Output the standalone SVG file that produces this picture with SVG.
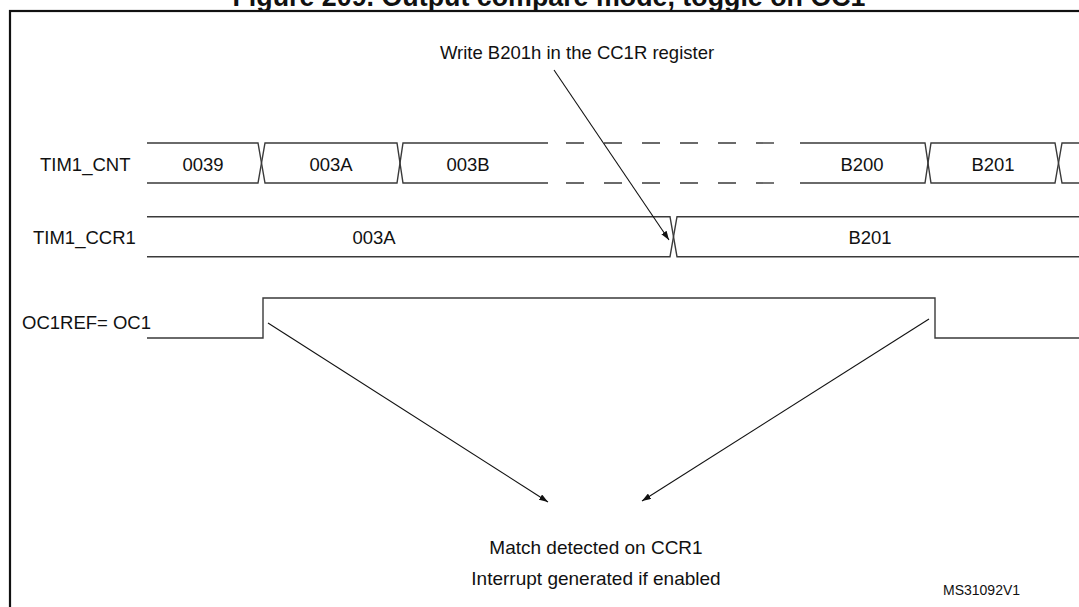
<svg xmlns="http://www.w3.org/2000/svg" width="1079" height="607" viewBox="0 0 1079 607">
<style>
.t{font-family:"Liberation Sans",Arial,sans-serif;font-size:18.5px;fill:#111}
.m{text-anchor:middle}
.bus{fill:none;stroke:#3a3a3a;stroke-width:1.4}
.arr{fill:none;stroke:#111;stroke-width:1.1}
</style>
<defs>
<marker id="ah" viewBox="0 0 10 7" refX="10" refY="3.5" markerWidth="9" markerHeight="6.3" markerUnits="userSpaceOnUse" orient="auto">
<path d="M0,0 L10,3.5 L0,7 z" fill="#111"/>
</marker>
</defs>
<rect width="1079" height="607" fill="#fff"/>
<text x="549" y="5.5" class="t m" style="font-weight:bold;font-size:26.8px" textLength="633">Figure 209. Output compare mode, toggle on OC1</text>
<rect id="frame" x="10" y="11" width="1100" height="650" fill="none" stroke="#111" stroke-width="2.2"/>

<g id="tim1_cnt">
<text x="40" y="170.5" class="t">TIM1_CNT</text>
<polyline class="bus" points="147,143 258,143 265,183 397,183 403,143 548,143"/>
<polyline class="bus" points="147,183 258,183 265,143 397,143 403,183 548,183"/>
<line class="bus" x1="566" y1="143" x2="774" y2="143" stroke-dasharray="18 20"/>
<line class="bus" x1="566" y1="183" x2="774" y2="183" stroke-dasharray="18 20"/>
<polyline class="bus" points="800,143 925,143 931,183 1055,183 1062,143 1080,143"/>
<polyline class="bus" points="800,183 925,183 931,143 1055,143 1062,183 1080,183"/>
<text x="203" y="170.5" class="t m">0039</text>
<text x="331" y="170.5" class="t m">003A</text>
<text x="468" y="170.5" class="t m">003B</text>
<text x="862" y="170.5" class="t m">B200</text>
<text x="993" y="170.5" class="t m">B201</text>
</g>

<g id="tim1_ccr1">
<text x="33" y="244" class="t">TIM1_CCR1</text>
<polyline class="bus" points="147,216.7 670,216.7 677,256.7 1080,256.7"/>
<polyline class="bus" points="147,256.7 670,256.7 677,216.7 1080,216.7"/>
<text x="374" y="244" class="t m">003A</text>
<text x="870" y="244" class="t m">B201</text>
</g>

<g id="oc1ref">
<text x="22" y="329" class="t">OC1REF= OC1</text>
<polyline class="bus" points="147,338 263,338 263,298 935,298 935,338 1080,338"/>
</g>

<g id="write_note">
<text x="577" y="58.5" class="t m">Write B201h in the CC1R register</text>
</g>

<g id="match_note">
<text x="596" y="554" class="t m" style="font-size:19px">Match detected on CCR1</text>
<text x="596" y="585" class="t m" style="font-size:19px">Interrupt generated if enabled</text>
</g>

<g id="ref_id">
<text x="943" y="595" class="t" style="font-size:14px">MS31092V1</text>
</g>

<g id="connectors">
<line class="arr" x1="554" y1="70" x2="669" y2="240" marker-end="url(#ah)"/>
<line class="arr" x1="268" y1="323" x2="548" y2="502" marker-end="url(#ah)"/>
<line class="arr" x1="929" y1="319" x2="642" y2="501" marker-end="url(#ah)"/>
</g>
</svg>
